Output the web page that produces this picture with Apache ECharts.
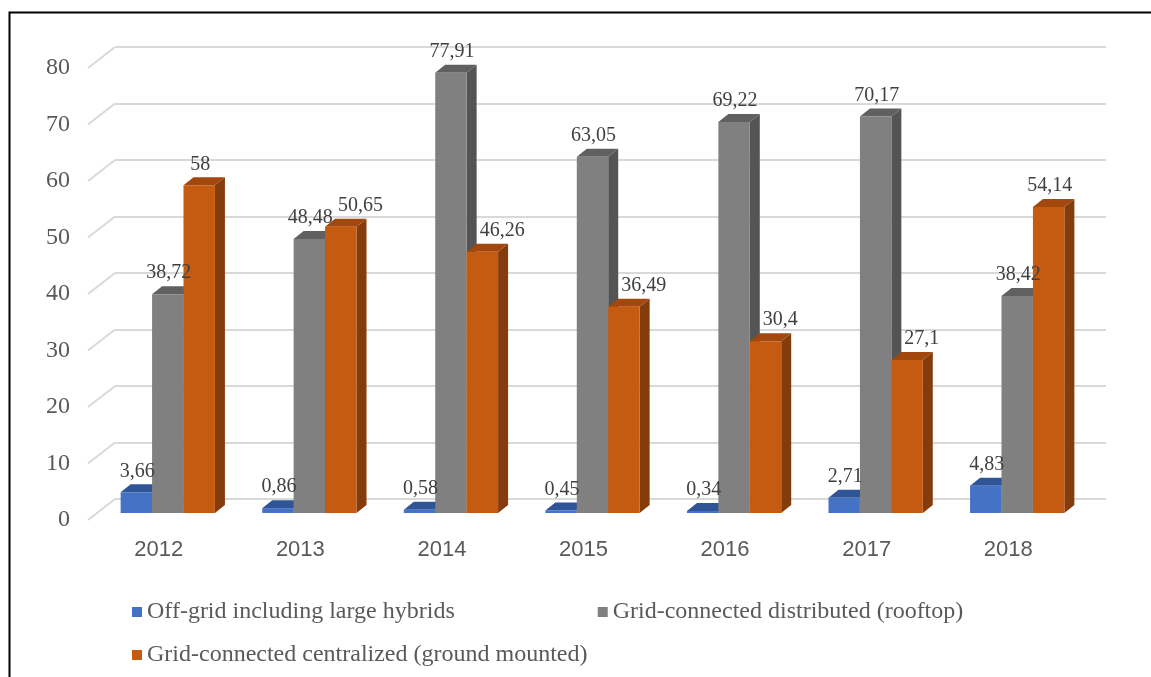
<!DOCTYPE html>
<html>
<head>
<meta charset="utf-8">
<script src="https://cdn.jsdelivr.net/npm/echarts@6/dist/echarts.min.js"></script>
<style>
  html, body { margin: 0; padding: 0; background: #fff; }
  #main { width: 1151px; height: 677px; }
</style>
</head>
<body>
<div id="main"></div>
<script>
var years = ['2012', '2013', '2014', '2015', '2016', '2017', '2018'];
var offGrid = [3.66, 0.86, 0.58, 0.45, 0.34, 2.71, 4.83];
var rooftop = [38.72, 48.48, 77.91, 63.05, 69.22, 70.17, 38.42];
var ground = [58, 50.65, 46.26, 36.49, 30.4, 27.1, 54.14];
var yTicks = [0, 10, 20, 30, 40, 50, 60, 70, 80];

var names = ['Off-grid including large hybrids', 'Grid-connected distributed (rooftop)', 'Grid-connected centralized (ground mounted)'];
var colors = [
    { front: '#4472c4', top: '#2f5597', side: '#2f5597' },
    { front: '#808080', top: '#606060', side: '#545454' },
    { front: '#c55a11', top: '#a2470d', side: '#843c0c' }
];

var serif = '"Liberation Serif", "Times New Roman", serif';

// depth offsets (px) for the fake 3d look
var wallDx = -27, wallDy = 21;   // back wall -> front edge
var barDx = -18, barDy = 14;     // back wall -> bar front face
var sideDx = 10, sideDy = -8;    // bar thickness

function barRender(idx) {
    return function (params, api) {
        var cat = api.value(0);
        var val = api.value(1);
        var base = api.coord([cat, 0]);
        var size = api.size([1, val]);
        var bw = size[0] * 0.222;
        var x0 = base[0] + barDx - bw * 1.5 + idx * bw;
        var x1 = x0 + bw;
        var yb = base[1] + barDy;
        var yt = yb - size[1];
        var c = colors[idx];
        var txt = String(val).replace('.', ',');
        // like excel: push the orange label right when the grey bar is in the way
        var tx = (x0 + x1) / 2 + 1, align = 'center';
        if (idx === 2 && rooftop[cat] > val - 5) {
            tx = x0 + sideDx + 3;
            align = 'left';
        }
        return {
            type: 'group',
            children: [
                { type: 'polygon', shape: { points: [[x1, yt], [x1 + sideDx, yt + sideDy], [x1 + sideDx, yb + sideDy], [x1, yb]] }, style: { fill: c.side } },
                { type: 'polygon', shape: { points: [[x0, yt], [x0 + sideDx, yt + sideDy], [x1 + sideDx, yt + sideDy], [x1, yt]] }, style: { fill: c.top } },
                { type: 'rect', shape: { x: x0, y: yt, width: bw, height: yb - yt }, style: { fill: c.front } },
                { type: 'text', z2: 100, style: { x: tx, y: yt - 21, text: txt, fill: '#404040', font: '20px ' + serif, align: align, verticalAlign: 'middle' } }
            ]
        };
    };
}

function seriesData(arr) {
    return arr.map(function (v, i) { return [i, v]; });
}

var series = [];
[offGrid, rooftop, ground].forEach(function (arr, i) {
    series.push({
        name: names[i],
        type: 'custom',
        xAxisIndex: 0,
        yAxisIndex: 0,
        itemStyle: { color: colors[i].front },
        renderItem: barRender(i),
        data: seriesData(arr),
        clip: false
    });
});

// diagonal floor lines joining the back wall grid to the front edge
series.push({
    type: 'custom',
    xAxisIndex: 0,
    yAxisIndex: 0,
    silent: true,
    z: 0,
    clip: false,
    renderItem: function (params, api) {
        var y = api.coord([0, api.value(0)])[1];
        var x = params.coordSys.x;
        return {
            type: 'line',
            shape: { x1: x, y1: y, x2: x + wallDx, y2: y + wallDy },
            style: { stroke: '#d9d9d9', lineWidth: 2 }
        };
    },
    data: yTicks.map(function (t) { return [t]; })
});

var myChart = echarts.init(document.getElementById('main'));
var option = {
    backgroundColor: '#fff',
    animation: false,
    graphic: [{
        type: 'rect',
        left: 7, top: 10,
        shape: { width: 1200, height: 720 },
        style: { fill: 'none', stroke: '#000', lineWidth: 2 },
        z: -1
    }],
    legend: [{
        data: [names[0], names[1]],
        left: 127, top: 595,
        icon: 'rect', itemWidth: 10, itemHeight: 10, itemGap: 143,
        textStyle: { color: '#595959', fontFamily: serif, fontSize: 24 }
    }, {
        data: [names[2]],
        left: 127, top: 638,
        icon: 'rect', itemWidth: 10, itemHeight: 10,
        textStyle: { color: '#595959', fontFamily: serif, fontSize: 24 }
    }],
    grid: [
        { left: 115, top: 47, width: 991, height: 452 },   // back wall
        { left: 88, top: 68, width: 991, height: 452 }     // front edge, labels only
    ],
    xAxis: [{
        type: 'category', gridIndex: 0, data: years,
        axisLine: { show: false }, axisTick: { show: false }, axisLabel: { show: false }
    }, {
        type: 'category', gridIndex: 1, data: years,
        axisLine: { show: false }, axisTick: { show: false },
        axisLabel: { color: '#595959', fontSize: 22, fontFamily: '"Liberation Sans", Arial, sans-serif', margin: 19 }
    }],
    yAxis: [{
        type: 'value', gridIndex: 0, min: 0, max: 80, interval: 10,
        axisLine: { show: false }, axisTick: { show: false }, axisLabel: { show: false },
        splitLine: { lineStyle: { color: '#d9d9d9', width: 2 } }
    }, {
        type: 'value', gridIndex: 1, min: 0, max: 80, interval: 10,
        axisLine: { show: false }, axisTick: { show: false }, splitLine: { show: false },
        axisLabel: { color: '#595959', fontSize: 24, fontFamily: serif, margin: 18 }
    }],
    series: series
};
myChart.setOption(option);
</script>
</body>
</html>
